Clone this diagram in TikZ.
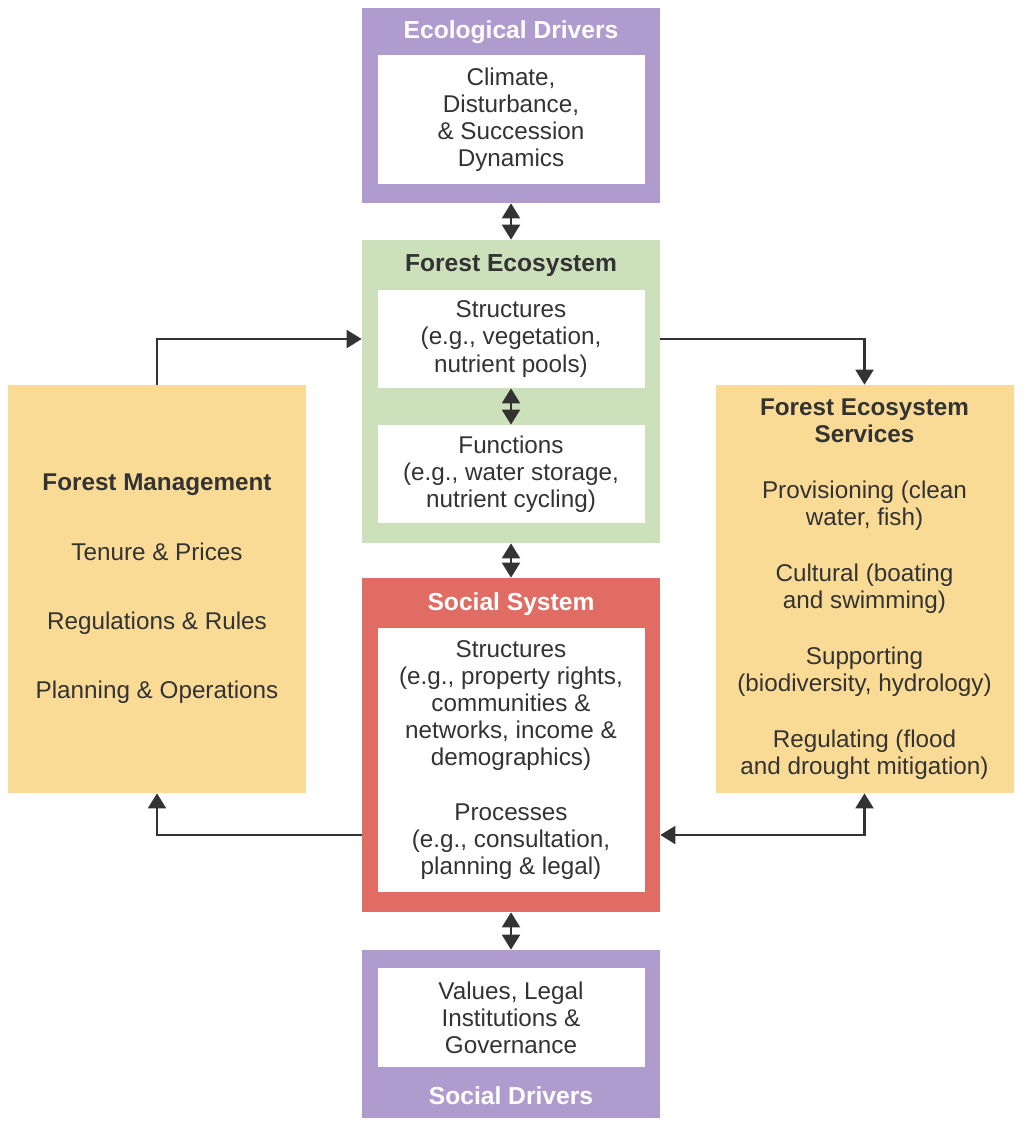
\documentclass[tikz,border=0pt]{standalone}
\usepackage{fontspec}
\setmainfont{Liberation Sans}
\usetikzlibrary{arrows.meta}

\definecolor{drvpurple}{RGB}{176,155,206}
\definecolor{ecogreen}{RGB}{204,224,188}
\definecolor{socred}{RGB}{224,108,100}
\definecolor{mgmtyellow}{RGB}{249,219,150}
\definecolor{txtgray}{RGB}{51,51,51}

\begin{document}
\begin{tikzpicture}[
    outer/.style={rectangle, minimum width=5.96cm, inner sep=0pt},
    inbox/.style={rectangle, fill=white, minimum width=5.34cm, inner sep=0pt, align=center, text=txtgray, font=\fontsize{13.8}{15.4}\selectfont},
    sidebox/.style={rectangle, fill=mgmtyellow, minimum width=5.96cm, minimum height=8.16cm, inner sep=0pt, align=center, text=txtgray, font=\fontsize{13.8}{15.4}\selectfont},
    ttl/.style={font=\fontsize{14}{15.4}\selectfont\bfseries},
    link/.style={draw=txtgray, line width=1.2pt, -{Triangle[width=0.36cm,length=0.3cm]}},
    both/.style={draw=txtgray, line width=1.2pt, {Triangle[width=0.36cm,length=0.3cm]}-{Triangle[width=0.36cm,length=0.3cm]}}
  ]
    \useasboundingbox (0,0) rectangle (20.48,-22.62);

    % outer boxes
    \node[outer, fill=drvpurple, minimum height=3.9cm] (ecodrv) at (10.22,-2.11) {};
    \node[outer, fill=ecogreen, minimum height=6.06cm] (forest) at (10.22,-7.83) {};
    \node[outer, fill=socred, minimum height=6.68cm] (social) at (10.22,-14.9) {};
    \node[outer, fill=drvpurple, minimum height=3.36cm] (socdrv) at (10.22,-20.68) {};

    % titles
    \node[ttl, text=white] (ecottl) at (10.22,-0.64) {Ecological Drivers};
    \node[ttl, text=txtgray] (forestttl) at (10.22,-5.32) {Forest Ecosystem};
    \node[ttl, text=white] (socialttl) at (10.22,-12.08) {Social System};
    \node[ttl, text=white] (socdrvttl) at (10.22,-21.92) {Social Drivers};

    % inner boxes
    \node[inbox, minimum height=2.58cm] (ecotxt) at (10.22,-2.39)
      {Climate,\\Disturbance,\\\& Succession\\Dynamics};
    \node[inbox, minimum height=1.96cm] (fstruct) at (10.22,-6.78)
      {Structures\\(e.g., vegetation,\\nutrient pools)};
    \node[inbox, minimum height=1.96cm] (ffunc) at (10.22,-9.48)
      {Functions\\(e.g., water storage,\\nutrient cycling)};
    \node[inbox, minimum height=5.28cm] (soctxt) at (10.22,-15.2)
      {Structures\\(e.g., property rights,\\communities \&\\networks, income \&\\demographics)\\[15.4pt]Processes\\(e.g., consultation,\\planning \& legal)};
    \node[inbox, minimum height=1.98cm] (sdtxt) at (10.22,-20.35)
      {Values, Legal\\Institutions \&\\Governance};

    % side boxes
    \node[sidebox] (mgmt) at (3.14,-11.78)
      {{\bfseries Forest Management}\\[24pt]Tenure \& Prices\\[24pt]Regulations \& Rules\\[24pt]Planning \& Operations};
    \node[sidebox] (services) at (17.29,-11.78)
      {{\bfseries Forest Ecosystem}\\{\bfseries Services}\\[16.5pt]Provisioning (clean\\water, fish)\\[16.5pt]Cultural (boating\\and swimming)\\[16.5pt]Supporting\\(biodiversity, hydrology)\\[16.5pt]Regulating (flood\\and drought mitigation)};

    \coordinate (lowlink) at (10.22,-16.7);

    % vertical links
    \draw[both] (ecodrv.south) -- (forest.north);
    \draw[both] (fstruct.south) -- (ffunc.north);
    \draw[both] (forest.south) -- (social.north);
    \draw[both] (social.south) -- (socdrv.north);

    % loop round the sides
    \draw[link] (mgmt.north) |- (forest.west |- fstruct.center);
    \draw[link] (forest.east |- fstruct.center) -| (services.north);
    \draw[link] (social.west |- lowlink) -| (mgmt.south);
    \draw[both] (services.south) |- (social.east |- lowlink);
\end{tikzpicture}
\end{document}
